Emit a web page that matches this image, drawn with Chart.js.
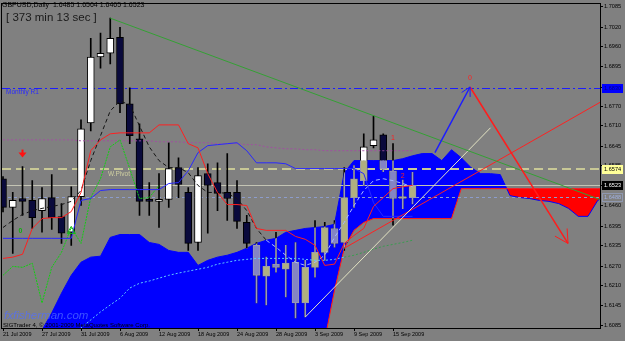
<!DOCTYPE html>
<html>
<head>
<meta charset="utf-8">
<script src="https://cdn.jsdelivr.net/npm/chart.js@4.4.0/dist/chart.umd.min.js"></script>
<style>
  html, body { margin: 0; padding: 0; background: #808080; }
</style>
</head>
<body>
<canvas id="chart" width="625" height="341"></canvas>
<script>
// GBPUSD daily, bar 0 = 21 Jul 2009 (one bar per trading day)
const opens  = [1.6544, 1.6454, 1.6482, 1.6476, 1.6444, 1.6485, 1.6425, 1.6376, 1.6488, 1.6719, 1.6926, 1.6938, 1.6988, 1.6779, 1.6669, 1.6476, 1.6473, 1.6479, 1.6579, 1.6501, 1.6344, 1.6560, 1.6532, 1.6501, 1.6501, 1.6407, 1.6335, 1.6238, 1.6276, 1.6260, 1.6282, 1.6154, 1.6266, 1.6313, 1.6388, 1.6344, 1.6485, 1.6538, 1.6648, 1.6682, 1.6569, 1.6482, 1.6485];
const highs  = [1.6551, 1.6501, 1.6582, 1.6538, 1.6516, 1.6557, 1.6466, 1.6519, 1.6729, 1.6985, 1.7001, 1.7048, 1.7019, 1.6829, 1.6716, 1.6532, 1.6560, 1.6657, 1.6610, 1.6516, 1.6579, 1.6591, 1.6594, 1.6623, 1.6538, 1.6429, 1.6344, 1.6298, 1.6376, 1.6335, 1.6344, 1.6288, 1.6413, 1.6407, 1.6413, 1.6579, 1.6585, 1.6685, 1.6741, 1.6685, 1.6654, 1.6540, 1.6564];
const lows   = [1.6440, 1.6310, 1.6429, 1.6388, 1.6376, 1.6385, 1.6341, 1.6335, 1.6460, 1.6694, 1.6891, 1.6904, 1.6751, 1.6654, 1.6429, 1.6429, 1.6391, 1.6454, 1.6485, 1.6319, 1.6319, 1.6373, 1.6444, 1.6413, 1.6388, 1.6326, 1.6154, 1.6148, 1.6251, 1.6173, 1.6107, 1.6110, 1.6235, 1.6288, 1.6329, 1.6319, 1.6454, 1.6523, 1.6641, 1.6566, 1.6398, 1.6450, 1.6465];
const closes = [1.6454, 1.6476, 1.6473, 1.6422, 1.6482, 1.6422, 1.6373, 1.6488, 1.6701, 1.6926, 1.6938, 1.6985, 1.6779, 1.6679, 1.6473, 1.6473, 1.6479, 1.6576, 1.6526, 1.6341, 1.6554, 1.6523, 1.6498, 1.6482, 1.6410, 1.6341, 1.6241, 1.6269, 1.6266, 1.6279, 1.6154, 1.6266, 1.6313, 1.6391, 1.6341, 1.6485, 1.6544, 1.6644, 1.6666, 1.6576, 1.6482, 1.6485, 1.6523];

// Ichimoku
const tenkan = [1.6294, 1.6298, 1.6307, 1.6388, 1.6419, 1.6422, 1.6422, 1.6441, 1.6501, 1.6632, 1.6666, 1.6685, 1.6688, 1.6688, 1.6688, 1.6688, 1.6713, 1.6713, 1.6713, 1.6654, 1.6641, 1.6560, 1.6501, 1.6463, 1.6463, 1.6460, 1.6388, 1.6382, 1.6382, 1.6382, 1.6363, 1.6354, 1.6335, 1.6272, 1.6276, 1.6341, 1.6366, 1.6388, 1.6457, 1.6485, 1.6513, 1.6519, 1.6523];
const kijun  = [1.6357, 1.6357, 1.6357, 1.6357, 1.6357, 1.6357, 1.6357, 1.6357, 1.6476, 1.6482, 1.6507, 1.6510, 1.6510, 1.6510, 1.6510, 1.6510, 1.6510, 1.6529, 1.6532, 1.6569, 1.6626, 1.6648, 1.6651, 1.6654, 1.6657, 1.6632, 1.6594, 1.6594, 1.6594, 1.6591, 1.6576, 1.6576, 1.6576, 1.6576, 1.6576, 1.6576, 1.6576, 1.6560, 1.6469, 1.6426, 1.6426, 1.6426, 1.6426];
const chikou = [1.6241, 1.6269, 1.6266, 1.6279, 1.6154, 1.6266, 1.6313, 1.6391, 1.6341, 1.6485, 1.6544, 1.6644, 1.6666, 1.6576, 1.6482, 1.6485, 1.6523];
const spanA  = [1.5913, 1.5944, 1.5982, 1.6023, 1.6069, 1.6123, 1.6185, 1.6241, 1.6282, 1.6298,
                1.6301, 1.6360, 1.6369, 1.6369, 1.6369, 1.6344, 1.6338, 1.6319, 1.6313, 1.6313,
                1.6272, 1.6288, 1.6298, 1.6304, 1.6313, 1.6326, 1.6341, 1.6351, 1.6357, 1.6376,
                1.6382, 1.6388, 1.6391, 1.6394, 1.6401, 1.6563, 1.6601, 1.6601, 1.6601, 1.6601,
                1.6601, 1.6607, 1.6616, 1.6623, 1.6623, 1.6601, 1.6635, 1.6610, 1.6579, 1.6560,
                1.6560, 1.6557, 1.6491, 1.6485, 1.6482, 1.6476, 1.6473, 1.6466, 1.6451, 1.6426,
                1.6426, 1.6476, 1.6491];
const spanB  = [1.6000, 1.6000, 1.6000, 1.6000, 1.6000, 1.6000, 1.6000, 1.6000, 1.6000, 1.6000,
                1.6000, 1.6000, 1.6000, 1.6000, 1.6000, 1.6000, 1.6000, 1.6000, 1.6000, 1.6000,
                1.6000, 1.6000, 1.6000, 1.6000, 1.6000, 1.6000, 1.6000, 1.6000, 1.6000, 1.6000,
                1.6000, 1.6000, 1.6000, 1.6038, 1.6194, 1.6326, 1.6382, 1.6407, 1.6419, 1.6419,
                1.6419, 1.6419, 1.6419, 1.6419, 1.6419, 1.6419, 1.6419, 1.6513, 1.6513, 1.6513,
                1.6513, 1.6513, 1.6513, 1.6513, 1.6513, 1.6513, 1.6513, 1.6513, 1.6513, 1.6513,
                1.6513, 1.6513, 1.6513];

// other moving averages on the chart
const fastMa = [1.6391, 1.6413, 1.6432, 1.6444, 1.6451, 1.6457, 1.6463, 1.6473, 1.6507, 1.6601, 1.6679, 1.6757, 1.6788, 1.6776, 1.6710, 1.6644, 1.6601, 1.6579, 1.6579, 1.6563, 1.6523, 1.6501, 1.6501, 1.6498, 1.6482, 1.6444, 1.6388, 1.6351, 1.6329, 1.6304, 1.6282, 1.6272, 1.6282, 1.6304, 1.6360, 1.6407, 1.6460, 1.6507, 1.6538, 1.6544, 1.6538, 1.6529, 1.6519];
const longMa = [1.6666, 1.6666, 1.6666, 1.6666, 1.6666, 1.6666, 1.6666, 1.6666, 1.6663, 1.6663, 1.6663, 1.6663, 1.6663, 1.6663, 1.6663, 1.6663, 1.6660, 1.6660, 1.6660, 1.6657, 1.6657, 1.6657, 1.6654, 1.6654, 1.6654, 1.6651, 1.6651, 1.6644, 1.6641, 1.6638, 1.6638, 1.6635, 1.6635, 1.6632, 1.6632, 1.6632, 1.6632, 1.6632, 1.6632, 1.6632, 1.6632, 1.6632, 1.6632];
const slowMaStart = 7;
const slowMa = [1.6051, 1.6076, 1.6101, 1.6126, 1.6148, 1.6169, 1.6201, 1.6216, 1.6223, 1.6232, 1.6241, 1.6248, 1.6254, 1.6260, 1.6266, 1.6276, 1.6282, 1.6288, 1.6291, 1.6294, 1.6294, 1.6294, 1.6294, 1.6294, 1.6291, 1.6288, 1.6288, 1.6291, 1.6298, 1.6304, 1.6313, 1.6323, 1.6332, 1.6338, 1.6344, 1.6351];

// horizontal levels
const monthlyR1 = 1.6830;
const weeklyPivot = 1.6574;
const bidPrice = 1.6523;
const levelLine = 1.6488;

// drawn objects (bar index, price)
const greenTrend = [[11, 1.7048], [61.3, 1.6478]];
const whiteTrend = [[31, 1.6110], [50, 1.6704]];
const redTrend   = [[35, 1.6326], [61.3, 1.6785]];
const blueArrow  = [[44.3, 1.6626], [47.9, 1.6832]];
const redArrow   = [[47.9, 1.6832], [57.95, 1.6341]];
const waveLabels = [['0', 47.9, 1.6860], ['1', 40.0, 1.6672], ['2', 41.0, 1.6551]];

// axes
const dateLabels = ['21 Jul 2009', '27 Jul 2009', '31 Jul 2009', '6 Aug 2009', '12 Aug 2009', '18 Aug 2009', '24 Aug 2009', '28 Aug 2009', '3 Sep 2009', '9 Sep 2009', '15 Sep 2009'];
const dateTickBars = [0, 4, 8, 12, 16, 20, 24, 28, 32, 36, 40];
const priceTicks = [1.6085, 1.6145, 1.6210, 1.6270, 1.6335, 1.6395, 1.6460, 1.6523, 1.6585, 1.6645, 1.6710, 1.6770, 1.6830, 1.6895, 1.6960, 1.7020, 1.7085];

const FONT = 'Liberation Sans, Arial, sans-serif';

const pts = arr => arr.map((v, i) => ({ x: i, y: v }));
const seg = arr => arr.map(p => ({ x: p[0], y: p[1] }));

function inCloud(i, v) {
    const k = Math.round(i);
    const a = spanA[k], b = spanB[k];
    if (a === undefined) return false;
    return v <= Math.max(a, b) && v >= Math.min(a, b);
}

const isBull = i => closes[i] >= opens[i];

// horizontal level lines, drawn right after the cloud so candles sit on top
const levels = [
    { v: levelLine, color: '#8c9ccc', width: 1, dash: [3, 3] },
    { v: bidPrice, color: '#c4c4b4', width: 1, dash: [] },
    { v: weeklyPivot, color: '#c8c896', width: 2, dash: [9, 5] },
    { v: monthlyR1, color: '#1c1cff', width: 1, dash: [8, 3, 2, 3] }
];

// clip a dataset to the Kumo polygon (candles look washed out inside the cloud)
const cloudClip = {
    id: 'cloudClip',
    beforeDatasetDraw(chart, args) {
        const ds = chart.data.datasets[args.index];
        if (!ds.inCloud) return;
        const { ctx, scales: { x, y } } = chart;
        ctx.save();
        ctx.beginPath();
        spanA.forEach((v, i) => {
            const px = x.getPixelForValue(i), py = y.getPixelForValue(v);
            i ? ctx.lineTo(px, py) : ctx.moveTo(px, py);
        });
        for (let i = spanB.length - 1; i >= 0; i--) {
            ctx.lineTo(x.getPixelForValue(i), y.getPixelForValue(spanB[i]));
        }
        ctx.closePath();
        ctx.clip();
    },
    afterDatasetDraw(chart, args) {
        const ds = chart.data.datasets[args.index];
        if (ds.inCloud) chart.ctx.restore();
        if (ds.levelsAfter) {
            const { ctx, chartArea: ca, scales: { y } } = chart;
            ctx.save();
            ctx.beginPath();
            ctx.rect(ca.left, ca.top, ca.right - ca.left, ca.bottom - ca.top);
            ctx.clip();
            levels.forEach(l => {
                const py = Math.round(y.getPixelForValue(l.v)) + (l.width === 1 ? 0.5 : 0);
                ctx.strokeStyle = l.color;
                ctx.lineWidth = l.width;
                ctx.setLineDash(l.dash);
                ctx.beginPath();
                ctx.moveTo(ca.left, py);
                ctx.lineTo(ca.right, py);
                ctx.stroke();
            });
            ctx.restore();
        }
    }
};

function arrowHead(ctx, x0, y0, x1, y1, len, color) {
    const a = Math.atan2(y1 - y0, x1 - x0);
    ctx.strokeStyle = color;
    ctx.lineWidth = 1;
    ctx.beginPath();
    ctx.moveTo(x1 - len * Math.cos(a - 0.5), y1 - len * Math.sin(a - 0.5));
    ctx.lineTo(x1, y1);
    ctx.lineTo(x1 - len * Math.cos(a + 0.5), y1 - len * Math.sin(a + 0.5));
    ctx.stroke();
}

const mt4Overlay = {
    id: 'mt4Overlay',
    beforeDraw(chart) {
        const ctx = chart.ctx;
        ctx.save();
        ctx.fillStyle = '#808080';
        ctx.fillRect(0, 0, chart.width, chart.height);
        ctx.restore();
    },
    afterDraw(chart) {
        const { ctx, chartArea: ca, scales: { x, y } } = chart;
        ctx.save();

        // arrow heads of the wave projection
        const px = p => [x.getPixelForValue(p[0]), y.getPixelForValue(p[1])];
        const [b0x, b0y] = px(blueArrow[0]), [b1x, b1y] = px(blueArrow[1]);
        arrowHead(ctx, b0x, b0y, b1x, b1y, 10, '#1c1cff');
        const [r0x, r0y] = px(redArrow[0]), [r1x, r1y] = px(redArrow[1]);
        arrowHead(ctx, r0x, r0y, r1x, r1y, 15, '#ff1c1c');

        // wave counts
        ctx.font = '7px ' + FONT;
        ctx.fillStyle = '#ff2020';
        ctx.textAlign = 'center';
        ctx.textBaseline = 'middle';
        waveLabels.forEach(([t, i, v]) => ctx.fillText(t, x.getPixelForValue(i), y.getPixelForValue(v)));

        // fractal arrow above bar 2 and signal triangle under bar 7
        const fx = x.getPixelForValue(2), fy = y.getPixelForValue(1.6623);
        ctx.fillStyle = '#ff1010';
        ctx.fillRect(fx - 1, fy - 4, 2, 4);
        ctx.beginPath();
        ctx.moveTo(fx - 4, fy - 1); ctx.lineTo(fx + 4, fy - 1); ctx.lineTo(fx, fy + 4);
        ctx.closePath(); ctx.fill();
        const tx = x.getPixelForValue(7), ty = y.getPixelForValue(1.6382);
        ctx.strokeStyle = '#10c010';
        ctx.beginPath();
        ctx.moveTo(tx - 4, ty + 3); ctx.lineTo(tx + 4, ty + 3); ctx.lineTo(tx, ty - 4);
        ctx.closePath(); ctx.stroke();
        ctx.fillStyle = '#10b010';
        ctx.font = 'bold 7px ' + FONT;
        ctx.fillText('0', x.getPixelForValue(1.8), y.getPixelForValue(1.6379));

        // line captions
        ctx.textAlign = 'left';
        ctx.textBaseline = 'top';
        ctx.font = '6.5px ' + FONT;
        ctx.fillStyle = '#2a2aff';
        ctx.fillText('Monthly R1', 6, y.getPixelForValue(monthlyR1) + 1.5);
        ctx.fillStyle = '#cfcfa0';
        ctx.fillText('W.Pivot', 108, y.getPixelForValue(weeklyPivot) + 1.5);

        // watermark + copyright
        ctx.font = 'italic 11.5px ' + FONT;
        ctx.fillStyle = 'rgba(80,110,255,0.75)';
        ctx.textBaseline = 'alphabetic';
        ctx.fillText('fxfisherman.com', 4, 319);
        ctx.font = '6px ' + FONT;
        ctx.fillStyle = '#000000';
        ctx.fillText('SIGTrader 4, \u00a9 2001-2009 MetaQuotes Software Corp.', 3, 327);

        // header
        ctx.textBaseline = 'top';
        ctx.font = '7px ' + FONT;
        ctx.fillStyle = '#000000';
        ctx.fillText('GBPUSD,Daily  1.6485 1.6564 1.6465 1.6523', 2, 2);
        ctx.font = '11.5px ' + FONT;
        ctx.fillStyle = '#1a1a1a';
        ctx.fillText('[ 373 min 13 sec ]', 6, 12);

        // frame
        ctx.strokeStyle = '#000000';
        ctx.lineWidth = 1;
        ctx.strokeRect(Math.round(ca.left) - 0.5, Math.round(ca.top) - 0.5, Math.round(ca.right - ca.left) + 1, Math.round(ca.bottom - ca.top) + 1);

        // price boxes on the right scale
        const boxes = [
            { v: monthlyR1, bg: '#0000ff', fg: '#000080' },
            { v: weeklyPivot, bg: '#ffff99', fg: '#000000' },
            { v: levelLine, bg: '#808080', fg: '#9fb0e0', dotted: true },
            { v: bidPrice, bg: '#000000', fg: '#ffffff' }
        ];
        ctx.font = '5.6px ' + FONT;
        ctx.textBaseline = 'middle';
        boxes.forEach(b => {
            const py = Math.round(y.getPixelForValue(b.v));
            ctx.fillStyle = b.bg;
            ctx.fillRect(602, py - 4, 21, 9);
            if (b.dotted) {
                ctx.setLineDash([1, 1]);
                ctx.strokeStyle = b.fg;
                ctx.strokeRect(602.5, py - 3.5, 20, 8);
                ctx.setLineDash([]);
            }
            ctx.fillStyle = b.fg;
            ctx.fillText(b.v.toFixed(4), 604, py + 0.5);
        });
        ctx.restore();
    }
};

const barIdx = opens.map((_, i) => i);

new Chart(document.getElementById('chart'), {
    type: 'bar',
    data: {
        datasets: [
            // cloud
            { type: 'line', data: pts(spanA), borderColor: '#0000ff', borderWidth: 1, pointRadius: 0,
              fill: { target: 1, above: '#0000ff', below: '#ff0000' }, order: 50 },
            { type: 'line', data: pts(spanB), borderColor: '#ff1c1c', borderWidth: 1, pointRadius: 0, fill: false, order: 49, levelsAfter: true },
            // candles
            { data: barIdx.map(i => ({ x: i, y: [lows[i], highs[i]] })), backgroundColor: '#000000', barThickness: 1, order: 30 },
            { data: barIdx.map(i => ({ x: i, y: [opens[i], closes[i]] })), barThickness: 7, minBarLength: 2,
              backgroundColor: c => isBull(c.dataIndex) ? '#ffffff' : '#0a0a3c', borderColor: '#000000', borderWidth: 1, borderSkipped: false, order: 29 },
            { data: barIdx.map(i => ({ x: i, y: [lows[i], highs[i]] })), backgroundColor: '#9a9ab4', barThickness: 1, order: 28, inCloud: true },
            { data: barIdx.map(i => ({ x: i, y: [opens[i], closes[i]] })), barThickness: 7, minBarLength: 2,
              backgroundColor: c => isBull(c.dataIndex) ? '#b0b080' : '#8484c4', borderColor: '#9a9ab4', borderWidth: 1, borderSkipped: false, order: 27, inCloud: true },
            // indicators
            { type: 'line', data: pts(longMa), borderColor: '#a050a0', borderWidth: 1, borderDash: [2, 2], pointRadius: 0, order: 20 },
            { type: 'line', data: slowMa.map((v, k) => ({ x: k + slowMaStart, y: v })), borderWidth: 1, borderDash: [2, 2], pointRadius: 0, order: 20,
              segment: { borderColor: c => inCloud(c.p0.parsed.x, c.p0.parsed.y) ? '#60c8ff' : '#3a9c50' } },
            { type: 'line', data: pts(fastMa), borderWidth: 1, borderDash: [4, 3], pointRadius: 0, order: 19,
              segment: { borderColor: c => inCloud(c.p0.parsed.x, c.p0.parsed.y) ? '#a8b8ff' : '#141414' } },
            { type: 'line', data: pts(chikou), borderColor: '#10d010', borderWidth: 1, borderDash: [2, 1], pointRadius: 0, order: 18 },
            { type: 'line', data: pts(kijun), borderColor: '#2828ff', borderWidth: 1, pointRadius: 0, order: 17 },
            { type: 'line', data: pts(tenkan), borderColor: '#ff2020', borderWidth: 1, pointRadius: 0, order: 16 },
            // drawn objects
            { type: 'line', data: seg(greenTrend), borderColor: '#34a034', borderWidth: 1, pointRadius: 0, order: 10 },
            { type: 'line', data: seg(whiteTrend), borderColor: '#e4e4c4', borderWidth: 1, pointRadius: 0, order: 10 },
            { type: 'line', data: seg(redTrend), borderColor: '#ff2020', borderWidth: 1, pointRadius: 0, order: 10 },
            { type: 'line', data: seg(blueArrow), borderColor: '#1c1cff', borderWidth: 1.5, pointRadius: 0, order: 9 },
            { type: 'line', data: seg(redArrow), borderColor: '#ff1c1c', borderWidth: 1.5, pointRadius: 0, order: 9 }
        ]
    },
    options: {
        responsive: false,
        animation: false,
        devicePixelRatio: 1,
        layout: { padding: { left: 2, top: 3, right: 0, bottom: 0 } },
        datasets: { bar: { grouped: false } },
        plugins: { legend: { display: false }, tooltip: { enabled: false } },
        scales: {
            x: {
                type: 'linear', min: -0.103, max: 61.23, offset: false,
                grid: { display: true, offset: false, drawOnChartArea: false, drawTicks: true, tickLength: 3, color: '#000000' },
                border: { display: false },
                ticks: { autoSkip: false, maxRotation: 0, align: 'start', padding: 0, color: '#000000',
                         font: { size: 5.5, family: FONT }, callback: (v, i) => dateLabels[i] },
                afterBuildTicks: s => { s.ticks = dateTickBars.map(v => ({ value: v })); },
                afterFit: s => { s.height = 13; }
            },
            y: {
                type: 'linear', position: 'right', min: 1.60756, max: 1.70913, beginAtZero: false,
                grid: { display: true, drawOnChartArea: false, drawTicks: true, tickLength: 3, color: '#000000' },
                border: { display: false },
                ticks: { autoSkip: false, padding: 1, color: '#000000', font: { size: 5.6, family: FONT },
                         callback: v => v.toFixed(4) },
                afterBuildTicks: s => { s.ticks = priceTicks.map(v => ({ value: v })); },
                afterFit: s => { s.width = 25; }
            }
        }
    },
    plugins: [cloudClip, mt4Overlay]
});
</script>
</body>
</html>
